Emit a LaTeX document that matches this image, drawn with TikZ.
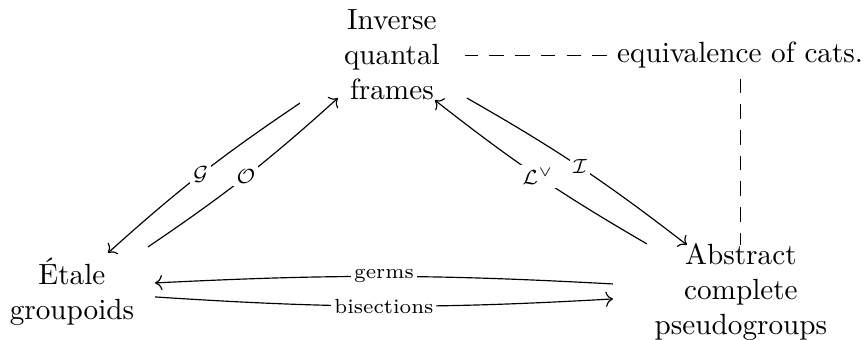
\documentclass[tikz,border=0pt]{standalone}
\usepackage{amsmath}
\usepackage{amssymb}
\usepackage{tikz}
\usetikzlibrary{arrows.meta,positioning}

\begin{document}
\begin{tikzpicture}[node distance=3cm, on grid]
    \tikzstyle{category} = [align=center]
    \tikzstyle{functor} = [-{Computer Modern Rightarrow}]
    \tikzstyle{fname} = [fill=white, inner sep=1pt, font=\scriptsize]
    \tikzstyle{equivline} = [dash pattern=on 5pt off 3.8pt]
    \useasboundingbox (0,0) rectangle (10.385,4.091);
    \node (etale) [category] at (0.866,0.578) {\'Etale\\groupoids};
    \node (pseudo) [category, right=8.05cm of etale] {Abstract\\complete\\pseudogroups};
    \node (frames) [category, above right=2.85cm and 3.85cm of etale] {Inverse\\quantal\\frames};
    \node (equiv) [right=4.19cm of frames] {equivalence of cats.};
    \draw [functor] ([shift={(-1.107,-0.578)}]frames.center) to[bend right=4]
        node[fname] {$\mathcal{G}$} ([shift={(0.433,0.469)}]etale.center);
    \draw [functor] ([shift={(0.915,0.542)}]etale.center) to[bend right=4]
        node[fname] {$\mathcal{O}$} ([shift={(-0.650,-0.517)}]frames.center);
    \draw [functor] ([shift={(0.903,-0.517)}]frames.center) to[bend left=4]
        node[fname] {$\mathcal{I}$} ([shift={(-0.650,0.566)}]pseudo.center);
    \draw [functor] ([shift={(-1.131,0.578)}]pseudo.center) to[bend left=4]
        node[fname] {$\mathcal{L}^\vee$} ([shift={(0.517,-0.542)}]frames.center);
    \draw [functor] ([shift={(-1.540,0.096)}]pseudo.center) to[bend right=3]
        node[fname] {germs} ([shift={(0.999,0.108)}]etale.center);
    \draw [functor] ([shift={(0.999,-0.060)}]etale.center) to[bend right=3.5]
        node[fname] {bisections} ([shift={(-1.540,-0.084)}]pseudo.center);
    % dashed link to the pair of equivalent categories
    \draw [equivline, shorten >=5pt] (equiv.west) -- (frames.east);
    \draw [equivline, shorten >=-4pt] (equiv.south) -- (equiv.south |- pseudo.north);
\end{tikzpicture}
\end{document}
